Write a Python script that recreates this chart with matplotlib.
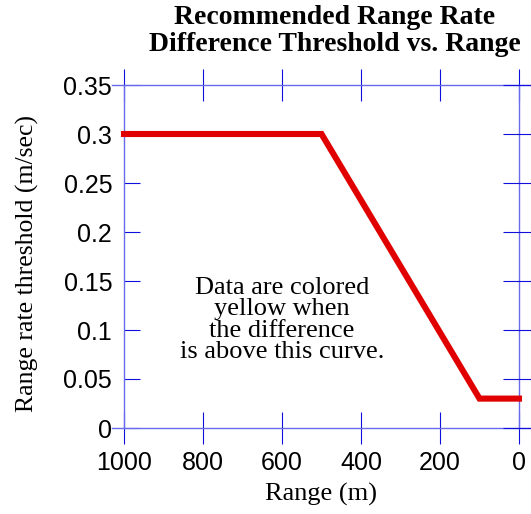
import matplotlib.pyplot as plt

# threshold curve
range_m = [1000, 500, 100, 0]
threshold = [0.3, 0.3, 0.03, 0.03]

x_ticks = [1000, 800, 600, 400, 200, 0]
y_ticks = [0, 0.05, 0.1, 0.15, 0.2, 0.25, 0.3, 0.35]
y_labels = ["0", "0.05", "0.1", "0.15", "0.2", "0.25", "0.3", "0.35"]

serif = ["Liberation Serif", "DejaVu Serif"]
sans = ["Liberation Sans", "DejaVu Sans"]

W, H = 531, 514
fig = plt.figure(figsize=(W / 100, H / 100), dpi=100)
ax = fig.add_axes([124 / W, 1 - 428 / H, 395 / W, 343 / H])

ax.plot(range_m, threshold, color="#e00000", lw=4.4, solid_capstyle="projecting",
        solid_joinstyle="miter", clip_on=False, zorder=3)

ax.set_xlim(1000, 0)
ax.set_ylim(0, 0.35)
ax.set_xticks(x_ticks)
ax.set_yticks(y_ticks)
ax.set_yticklabels(y_labels)

spine_col = "#6a6aee"
tick_col = "#1010dd"
for s in ax.spines.values():
    s.set_color(spine_col)
    s.set_linewidth(1.0)
ax.spines["top"].set_bounds(1030, -35)
ax.spines["bottom"].set_bounds(1030, -35)

ax.tick_params(axis="x", which="both", direction="inout", length=23, width=0.8,
               color=tick_col, top=True, bottom=True, labelsize=18, pad=5)
ax.tick_params(axis="y", which="both", left=True, right=False, direction="in",
               length=11.5, width=0.8, color=tick_col, labelsize=18, pad=8.5)
for lbl in ax.get_xticklabels() + ax.get_yticklabels():
    lbl.set_family(sans)

# right side ticks cross the spine
axr = ax.twinx()
axr.set_ylim(0, 0.35)
axr.set_yticks(y_ticks)
axr.tick_params(axis="y", direction="inout", length=23, width=0.8, color=tick_col,
                labelright=False)
for s in axr.spines.values():
    s.set_visible(False)

fig.text(321 / W, 1 - 494 / H, "Range (m)", family=serif, fontsize=19,
         ha="center", va="center")
fig.text(27 / W, 1 - 264 / H, "Range rate threshold (m/sec)", family=serif,
         fontsize=18.5, rotation=90, ha="center", va="center")
fig.text(335 / W, 1 - 31 / H,
         "Recommended Range Rate\nDifference Threshold vs. Range",
         family=serif, fontsize=20, fontweight="bold", ha="center", va="center",
         linespacing=1.12)

ax.text(600, 0.11, "Data are colored\nyellow when\nthe difference\nis above this curve.",
        family=serif, fontsize=19, ha="center", va="center", linespacing=0.97)

fig.savefig("out.png", dpi=100)
